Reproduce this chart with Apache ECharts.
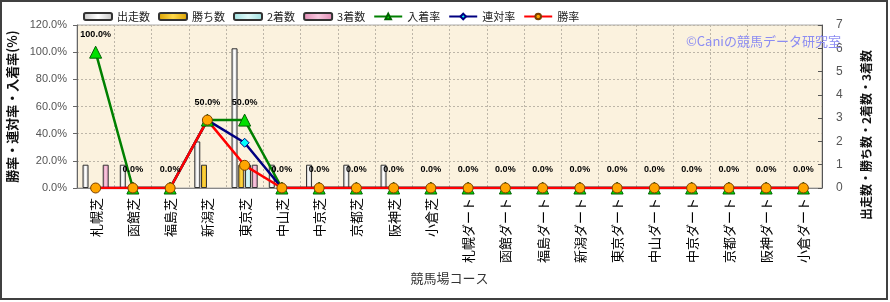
<!DOCTYPE html>
<html><head><meta charset="utf-8">
<script src="https://cdn.jsdelivr.net/npm/echarts@6/dist/echarts.min.js"></script>
<style>html,body{margin:0;padding:0;background:#fff}#c{width:890px;height:302px}</style>
</head><body><div id="c"></div>
<script>
const categories = ['札幌芝','函館芝','福島芝','新潟芝','東京芝','中山芝','中京芝','京都芝','阪神芝','小倉芝','札幌ダート','函館ダート','福島ダート','新潟ダート','東京ダート','中山ダート','中京ダート','京都ダート','阪神ダート','小倉ダート'];
const starts  = [1,1,0,2,6,1,1,1,1,0,0,0,0,0,0,0,0,0,0,0];
const wins    = [0,0,0,1,1,0,0,0,0,0,0,0,0,0,0,0,0,0,0,0];
const seconds = [0,0,0,0,1,0,0,0,0,0,0,0,0,0,0,0,0,0,0,0];
const thirds  = [1,0,0,0,1,0,0,0,0,0,0,0,0,0,0,0,0,0,0,0];
const placeRate  = [100,0,0,50,50,0,0,0,0,0,0,0,0,0,0,0,0,0,0,0];
const rentaiRate = [0,0,0,50,33.3,0,0,0,0,0,0,0,0,0,0,0,0,0,0,0];
const winRate    = [0,0,0,50,16.7,0,0,0,0,0,0,0,0,0,0,0,0,0,0,0];
const leftTicks = {min:0, max:120, interval:20};
const rightTicks = {min:0, max:7, interval:1};

const JP = '"Noto Sans CJK JP", sans-serif';
function grad(c1, c2) {
  return new echarts.graphic.LinearGradient(0,0,1,0,[{offset:0,color:c1},{offset:0.5,color:c2},{offset:1,color:c1}]);
}
function barSeries(name, data, c1, c2) {
  // zero-height bars are not drawn (as in the reference)
  return {name, type:'bar', yAxisIndex:1, data:data.map(v => v === 0 ? '-' : v), barWidth:6, barGap:'12%',
    itemStyle:{color:grad(c1,c2), borderColor:'#333', borderWidth:1}};
}
function lineSeries(name, data, lineColor, symbol, size, fill, border, label) {
  const s = {name, type:'line', yAxisIndex:0, data, symbol, symbolSize:size,
    lineStyle:{color:lineColor, width:2.5}, itemStyle:{color:fill, borderColor:border, borderWidth:1},
    color:lineColor, z:5};
  if (label) s.label = {show:true, position:'top', distance:7, color:'#000', fontSize:9, fontWeight:'bold',
    fontFamily:'"Liberation Sans", Arial, sans-serif', formatter:p=>p.value.toFixed(1)+'%'};
  return s;
}
const gridLine = {show:true, lineStyle:{type:[2,2], color:'#bdb6a8', width:1}};
const chart = echarts.init(document.getElementById('c'), null, {renderer:'canvas'});
chart.setOption({
  animation:false,
  textStyle:{fontFamily:JP},
  legend:{left:78, top:6, itemWidth:28, itemHeight:7, itemGap:8,
    textStyle:{fontSize:11, color:'#222', fontFamily:JP}},
  grid:{left:77, right:68, top:25, bottom:114, outerBoundsMode:'none', containLabel:false,
    show:true, backgroundColor:'#fbf2de', borderColor:'#aaa', borderWidth:1},
  graphic:[
    {type:'rect', shape:{x:1, y:1, width:886, height:298}, style:{fill:'none', stroke:'#404040', lineWidth:2}, silent:true},
    {type:'text', left:686, top:35, style:{text:'©Caniの競馬データ研究室', fill:'#8c8cf2', font:'13px "Noto Sans CJK JP"'}, z:10},
    {type:'text', x:866, y:135, rotation:Math.PI/2,
      style:{text:'出走数・勝ち数・2着数・3着数', fill:'#111', font:'bold 12px "Noto Sans CJK JP"', align:'center', verticalAlign:'middle'}}
  ],
  xAxis:{type:'category', data:categories, boundaryGap:true,
    name:'競馬場コース', nameLocation:'middle', nameGap:84, nameTextStyle:{fontSize:13, color:'#333', fontFamily:JP},
    axisLine:{lineStyle:{color:'#888'}}, axisTick:{show:false},
    axisLabel:{rotate:90, interval:0, fontSize:13, color:'#000', margin:10, fontFamily:JP},
    splitLine:gridLine},
  yAxis:[
    {type:'value', min:leftTicks.min, max:leftTicks.max, interval:leftTicks.interval, position:'left',
      name:'勝率・連対率・入着率(%)', nameLocation:'middle', nameGap:58,
      nameTextStyle:{fontSize:13, fontWeight:'bold', color:'#111', fontFamily:JP},
      axisLine:{show:true, lineStyle:{color:'#666'}}, axisTick:{show:true, length:4, lineStyle:{color:'#666'}},
      axisLabel:{formatter:v=>v.toFixed(1)+'%', fontSize:11, color:'#555', margin:10, fontFamily:'"Liberation Sans", Arial, sans-serif'},
      splitLine:gridLine},
    {type:'value', min:rightTicks.min, max:rightTicks.max, interval:rightTicks.interval, position:'right',
      axisLine:{show:true, lineStyle:{color:'#555'}}, axisTick:{show:true, inside:true, length:4, lineStyle:{color:'#555'}},
      axisLabel:{fontSize:12, color:'#555', margin:14, fontFamily:'"Liberation Sans", Arial, sans-serif'},
      splitLine:{show:false}}
  ],
  series:[
    barSeries('出走数', starts, '#c4c4c4', '#ffffff'),
    barSeries('勝ち数', wins, '#d9a000', '#ffd84a'),
    barSeries('2着数', seconds, '#9fe0e0', '#dffafa'),
    barSeries('3着数', thirds, '#e08ab4', '#f8c8de'),
    lineSeries('入着率', placeRate, '#008000', 'triangle', 12, '#00e000', '#006000', true),
    lineSeries('連対率', rentaiRate, '#000080', 'diamond', 9, '#00ffff', '#000080', false),
    lineSeries('勝率', winRate, '#ff0000', 'circle', 10, '#ffa500', '#7a4000', false)
  ]
});
</script></body></html>
